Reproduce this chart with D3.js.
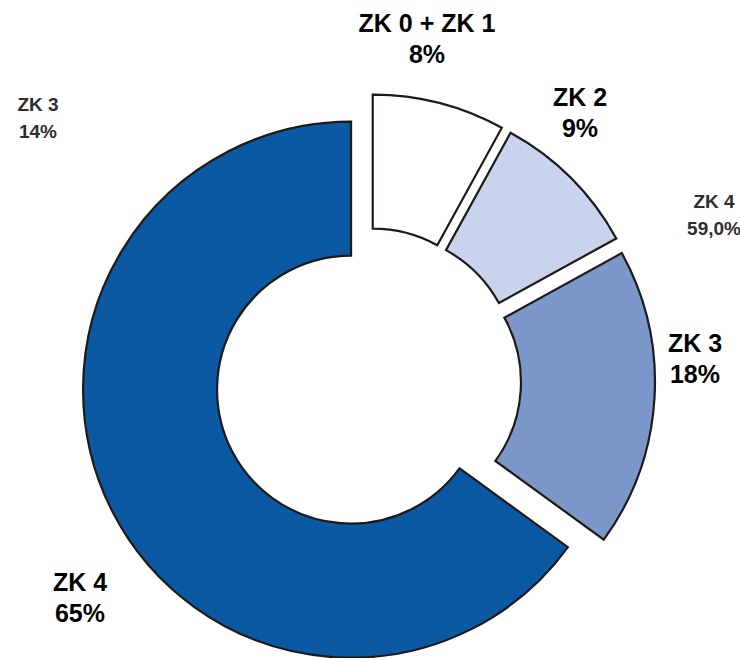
<!DOCTYPE html>
<html>
<head>
<meta charset="utf-8">
<script src="https://cdn.jsdelivr.net/npm/d3@7"></script>
<style>
  html, body { margin: 0; padding: 0; background: #ffffff; }
  svg { display: block; }
  text { font-family: "Liberation Sans", Arial, sans-serif; font-weight: bold; }
</style>
</head>
<body>
<svg id="chart" width="740" height="658"></svg>
<script>
// Share of each class
const categories = ["ZK 0 + ZK 1", "ZK 2", "ZK 3", "ZK 4"];
const shares = [8, 9, 18, 65];
const shareLabels = ["8%", "9%", "18%", "65%"];
const sliceColors = ["#ffffff", "#c9d3ee", "#7b97c9", "#0b58a3"];

// Side notes printed in grey next to the ring
const noteTitles = ["ZK 3", "ZK 4"];
const noteValues = ["14%", "59,0%"];

// Layout
const width = 740, height = 658;
const cx = 368, cy = 381;
const outerR = 268, innerR = 134;
const explode = 19;
const labelAnchors = [[427, 32], [580, 106], [695, 352], [80, 591]];
const noteAnchors = [[38, 111], [714, 208]];

const svg = d3.select("#chart");
const g = svg.append("g").attr("transform", `translate(${cx},${cy})`);

const pie = d3.pie().sort(null).value(d => d.value);
const arc = d3.arc().innerRadius(innerR).outerRadius(outerR);

const data = categories.map((c, i) => ({ name: c, value: shares[i], label: shareLabels[i], color: sliceColors[i] }));

g.selectAll("path.slice")
  .data(pie(data))
  .join("path")
  .attr("class", "slice")
  .attr("d", arc)
  .attr("transform", d => {
    const mid = (d.startAngle + d.endAngle) / 2;
    return `translate(${Math.sin(mid) * explode},${-Math.cos(mid) * explode})`;
  })
  .attr("fill", d => d.data.color)
  .attr("stroke", "#1e1a18")
  .attr("stroke-width", 2.2)
  .attr("stroke-linejoin", "miter");

// Category labels: name on the first line, share below
const labels = svg.selectAll("text.lbl")
  .data(data)
  .join("text")
  .attr("class", "lbl")
  .attr("text-anchor", "middle")
  .attr("font-size", 25)
  .attr("fill", "#000");
labels.append("tspan")
  .attr("x", (d, i) => labelAnchors[i][0])
  .attr("y", (d, i) => labelAnchors[i][1])
  .text(d => d.name);
labels.append("tspan")
  .attr("x", (d, i) => labelAnchors[i][0])
  .attr("y", (d, i) => labelAnchors[i][1] + 31)
  .text(d => d.label);

// Grey notes
const notes = svg.selectAll("text.note")
  .data(noteTitles)
  .join("text")
  .attr("class", "note")
  .attr("text-anchor", "middle")
  .attr("font-size", 19)
  .attr("fill", "#2e2e2e");
notes.append("tspan")
  .attr("x", (d, i) => noteAnchors[i][0])
  .attr("y", (d, i) => noteAnchors[i][1])
  .text(d => d);
notes.append("tspan")
  .attr("x", (d, i) => noteAnchors[i][0])
  .attr("y", (d, i) => noteAnchors[i][1] + 27)
  .text((d, i) => noteValues[i]);
</script>
</body>
</html>
